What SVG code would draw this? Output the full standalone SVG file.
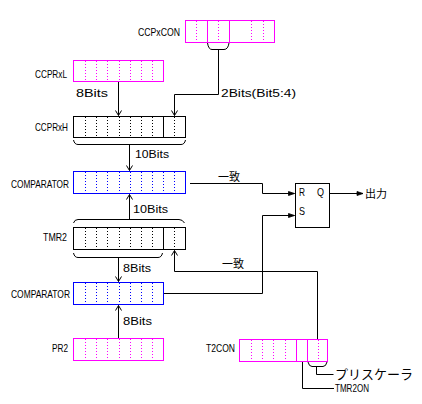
<svg xmlns="http://www.w3.org/2000/svg" width="422" height="404" viewBox="0 0 422 404">
<defs>
<style>
.t{font-family:"Liberation Sans","Noto Sans CJK JP",sans-serif;font-size:10.5px;fill:#000}
.j{font-family:"Noto Sans CJK JP",sans-serif;font-size:11px;fill:#000}
.bx{fill:#fff;stroke-width:1;shape-rendering:crispEdges}
.m{stroke:#ff00ff}
.b{stroke:#0000ff}
.k{stroke:#000}
.d{stroke-width:1;stroke-dasharray:1,2;shape-rendering:crispEdges}
.s{stroke-width:1;shape-rendering:crispEdges}
.w{fill:none;stroke:#000;stroke-width:1}
</style>
<marker id="v" markerUnits="userSpaceOnUse" markerWidth="10" markerHeight="10" refX="0" refY="0" viewBox="-6 -5 8 10" orient="auto">
<path d="M-5,-3 L0,0 L-5,3" fill="none" stroke="#000" stroke-width="1"/>
</marker>
<marker id="f" markerUnits="userSpaceOnUse" markerWidth="10" markerHeight="10" refX="0" refY="0" viewBox="-8 -5 10 10" orient="auto">
<path d="M-6,-2 L0,0 L-6,2 z" fill="#000" stroke="#000" stroke-width="0.8"/>
</marker>
</defs>

<g id="CCPxCON">
<rect class="bx m" x="185.5" y="20.5" width="89" height="22"/>
<g class="d m"><line x1="196.5" y1="21" x2="196.5" y2="42"/><line x1="218.5" y1="21" x2="218.5" y2="42"/><line x1="251.5" y1="21" x2="251.5" y2="42"/><line x1="263.5" y1="21" x2="263.5" y2="42"/></g>
<g class="s m"><line x1="207.5" y1="21" x2="207.5" y2="42"/><line x1="229.5" y1="21" x2="229.5" y2="42"/></g>
<text class="t" x="138" y="36" textLength="42" lengthAdjust="spacingAndGlyphs">CCPxCON</text>
</g>

<g id="CCPRxL">
<rect class="bx m" x="73.5" y="60.5" width="90" height="21"/>
<g class="d m"><line x1="85.5" y1="61" x2="85.5" y2="81"/><line x1="96.5" y1="61" x2="96.5" y2="81"/><line x1="107.5" y1="61" x2="107.5" y2="81"/><line x1="119.5" y1="61" x2="119.5" y2="81"/><line x1="130.5" y1="61" x2="130.5" y2="81"/><line x1="141.5" y1="61" x2="141.5" y2="81"/><line x1="152.5" y1="61" x2="152.5" y2="81"/></g>
<text class="t" x="35" y="78" textLength="32" lengthAdjust="spacingAndGlyphs">CCPRxL</text>
</g>

<g id="CCPRxH">
<rect class="bx k" x="73.5" y="116.5" width="112" height="21"/>
<g class="d k"><line x1="85.5" y1="117" x2="85.5" y2="137"/><line x1="96.5" y1="117" x2="96.5" y2="137"/><line x1="107.5" y1="117" x2="107.5" y2="137"/><line x1="119.5" y1="117" x2="119.5" y2="137"/><line x1="130.5" y1="117" x2="130.5" y2="137"/><line x1="141.5" y1="117" x2="141.5" y2="137"/><line x1="152.5" y1="117" x2="152.5" y2="137"/><line x1="174.5" y1="117" x2="174.5" y2="137"/></g>
<line class="s k" x1="163.5" y1="117" x2="163.5" y2="137"/>
<text class="t" x="35" y="131" textLength="33" lengthAdjust="spacingAndGlyphs">CCPRxH</text>
</g>

<g id="COMPARATOR1">
<rect class="bx b" x="73.5" y="171.5" width="112" height="22"/>
<g class="d b"><line x1="85.5" y1="172" x2="85.5" y2="193"/><line x1="96.5" y1="172" x2="96.5" y2="193"/><line x1="107.5" y1="172" x2="107.5" y2="193"/><line x1="119.5" y1="172" x2="119.5" y2="193"/><line x1="130.5" y1="172" x2="130.5" y2="193"/><line x1="141.5" y1="172" x2="141.5" y2="193"/><line x1="152.5" y1="172" x2="152.5" y2="193"/><line x1="163.5" y1="172" x2="163.5" y2="193"/><line x1="174.5" y1="172" x2="174.5" y2="193"/></g>
<text class="t" x="11" y="188" textLength="58" lengthAdjust="spacingAndGlyphs">COMPARATOR</text>
</g>

<g id="TMR2">
<rect class="bx k" x="73.5" y="227.5" width="112" height="22"/>
<g class="d k"><line x1="85.5" y1="228" x2="85.5" y2="249"/><line x1="96.5" y1="228" x2="96.5" y2="249"/><line x1="107.5" y1="228" x2="107.5" y2="249"/><line x1="119.5" y1="228" x2="119.5" y2="249"/><line x1="130.5" y1="228" x2="130.5" y2="249"/><line x1="141.5" y1="228" x2="141.5" y2="249"/><line x1="152.5" y1="228" x2="152.5" y2="249"/><line x1="174.5" y1="228" x2="174.5" y2="249"/></g>
<line class="s k" x1="163.5" y1="228" x2="163.5" y2="249"/>
<text class="t" x="43" y="241" textLength="24" lengthAdjust="spacingAndGlyphs">TMR2</text>
</g>

<g id="COMPARATOR2">
<rect class="bx b" x="73.5" y="282.5" width="90" height="22"/>
<g class="d b"><line x1="85.5" y1="283" x2="85.5" y2="304"/><line x1="96.5" y1="283" x2="96.5" y2="304"/><line x1="107.5" y1="283" x2="107.5" y2="304"/><line x1="119.5" y1="283" x2="119.5" y2="304"/><line x1="130.5" y1="283" x2="130.5" y2="304"/><line x1="141.5" y1="283" x2="141.5" y2="304"/><line x1="152.5" y1="283" x2="152.5" y2="304"/></g>
<text class="t" x="11" y="298" textLength="59" lengthAdjust="spacingAndGlyphs">COMPARATOR</text>
</g>

<g id="PR2">
<rect class="bx m" x="73.5" y="338.5" width="90" height="22"/>
<g class="d m"><line x1="85.5" y1="339" x2="85.5" y2="360"/><line x1="96.5" y1="339" x2="96.5" y2="360"/><line x1="107.5" y1="339" x2="107.5" y2="360"/><line x1="119.5" y1="339" x2="119.5" y2="360"/><line x1="130.5" y1="339" x2="130.5" y2="360"/><line x1="141.5" y1="339" x2="141.5" y2="360"/><line x1="152.5" y1="339" x2="152.5" y2="360"/></g>
<text class="t" x="52" y="352" textLength="16" lengthAdjust="spacingAndGlyphs">PR2</text>
</g>

<g id="T2CON">
<rect class="bx m" x="239.5" y="339.5" width="88" height="22"/>
<g class="d m"><line x1="251.5" y1="340" x2="251.5" y2="361"/><line x1="262.5" y1="340" x2="262.5" y2="361"/><line x1="273.5" y1="340" x2="273.5" y2="361"/><line x1="285.5" y1="340" x2="285.5" y2="361"/><line x1="318.5" y1="340" x2="318.5" y2="361"/></g>
<g class="s m"><line x1="296.5" y1="340" x2="296.5" y2="361"/><line x1="307.5" y1="340" x2="307.5" y2="361"/></g>
<text class="t" x="206" y="352" textLength="29" lengthAdjust="spacingAndGlyphs">T2CON</text>
</g>

<g id="FF">
<rect class="bx k" x="295.5" y="183.5" width="34" height="44"/>
<text class="t" x="299" y="196" textLength="6" lengthAdjust="spacingAndGlyphs">R</text>
<text class="t" x="317" y="196" textLength="7" lengthAdjust="spacingAndGlyphs">Q</text>
<text class="t" x="299" y="215" textLength="6" lengthAdjust="spacingAndGlyphs">S</text>
</g>

<g id="connectors">
<path class="w" d="M207.5,43 Q208.5,49.5 212,49.5 H224 Q228,49.5 229,43"/>
<path class="w" d="M218.5,49.5 V94.5 H174.5 V115.5" marker-end="url(#v)"/>
<text class="t" x="221" y="97" textLength="75" lengthAdjust="spacingAndGlyphs">2Bits(Bit5:4)</text>
<line class="w" x1="118.5" y1="82" x2="118.5" y2="115.5" marker-end="url(#v)"/>
<text class="t" x="76" y="97" textLength="32" lengthAdjust="spacingAndGlyphs">8Bits</text>
<path class="w" d="M73.5,140 Q74.5,144.5 78,144.5 H181 Q184.5,144.5 185.5,140"/>
<line class="w" x1="129.5" y1="144.5" x2="129.5" y2="170.5" marker-end="url(#v)"/>
<text class="t" x="135" y="158" textLength="34" lengthAdjust="spacingAndGlyphs">10Bits</text>
<path class="w" d="M73.5,223 Q74.5,219.5 78,219.5 H179 Q182.5,219.5 184.5,223"/>
<line class="w" x1="129.5" y1="219.5" x2="129.5" y2="194.5" marker-end="url(#v)"/>
<text class="t" x="133" y="213" textLength="35" lengthAdjust="spacingAndGlyphs">10Bits</text>
<path class="w" d="M73.5,253 Q74.5,257.5 78,257.5 H158 Q161.5,257.5 162.5,253"/>
<line class="w" x1="118.5" y1="257.5" x2="118.5" y2="281.5" marker-end="url(#v)"/>
<text class="t" x="123" y="272" textLength="28" lengthAdjust="spacingAndGlyphs">8Bits</text>
<line class="w" x1="118.5" y1="338" x2="118.5" y2="305.5" marker-end="url(#v)"/>
<text class="t" x="123" y="325" textLength="29" lengthAdjust="spacingAndGlyphs">8Bits</text>
<path class="w" d="M190,183.5 H262.5 V193.5 H294.5" marker-end="url(#f)"/>
<text class="j" x="218" y="181" textLength="22" lengthAdjust="spacingAndGlyphs">一致</text>
<path class="w" d="M164,293.5 H262.5 V215.5 H294.5" marker-end="url(#f)"/>
<path class="w" d="M317.5,339 V271.5 H174.5 V250.5" marker-end="url(#v)"/>
<text class="j" x="222" y="268" textLength="22" lengthAdjust="spacingAndGlyphs">一致</text>
<line class="w" x1="330" y1="193.5" x2="363" y2="193.5" marker-end="url(#f)"/>
<text class="j" x="365" y="198" textLength="22" lengthAdjust="spacingAndGlyphs">出力</text>
<path class="w" d="M308,362 Q309,366.5 312,366.5 H323 Q326,366.5 327,362"/>
<path class="w" d="M316.5,366.5 V374.5 H333.5"/>
<text class="j" x="335" y="379" style="font-size:13px" textLength="78" lengthAdjust="spacingAndGlyphs">プリスケーラ</text>
<path class="w" d="M302.5,362 V388.5 H334"/>
<text class="t" x="335" y="392" textLength="34" lengthAdjust="spacingAndGlyphs">TMR2ON</text>
</g>
</svg>
